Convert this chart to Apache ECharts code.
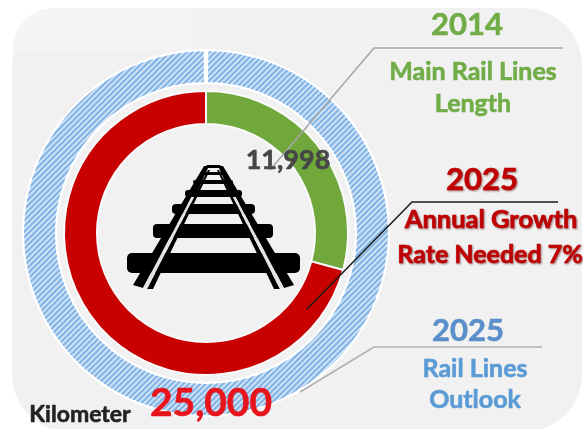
<!DOCTYPE html>
<html>
<head>
<meta charset="utf-8">
<style>
  html, body { margin: 0; padding: 0; background: #fff; }
  #chart { width: 583px; height: 429px; }
</style>
<script src="https://cdn.jsdelivr.net/npm/echarts@6/dist/echarts.min.js"></script>
</head>
<body>
<div id="chart"></div>
<script>
const outlookNames = ['2025 Rail Lines Outlook']
const outlookValues = [25000]
const ringNames = ['2014 Main Rail Lines Length', '2025 Annual Growth Rate Needed 7%']
const ringValues = [11998, 29100]

const fontFamily = 'Lato, "Open Sans", sans-serif'
const fmt = v => v.toLocaleString('en-US')

function text(str, x, y, size, fill, extra) {
  return {
    type: 'text',
    z: 20,
    style: Object.assign({
      text: str, x, y, fill,
      stroke: fill,
      lineWidth: 0.6,
      font: 'bold ' + size + 'px ' + fontFamily,
      textAlign: 'center',
      textVerticalAlign: 'middle'
    }, extra)
  }
}

function leader(points, stroke, width) {
  return {
    type: 'polyline',
    z: 15,
    shape: { points },
    style: { stroke, lineWidth: width, fill: null }
  }
}

function sleeper(x1, x2, y1, y2, r) {
  return {
    type: 'rect',
    z: 5,
    shape: { x: x1, y: y1, width: x2 - x1, height: y2 - y1, r },
    style: { fill: '#000' }
  }
}

function strip(points, fill) {
  return { type: 'polygon', z: 6, shape: { points }, style: { fill } }
}

const redShadow = { textShadowColor: 'rgba(90,0,0,0.45)', textShadowBlur: 2, textShadowOffsetX: 1, textShadowOffsetY: 1 }

const chart = echarts.init(document.getElementById('chart'))
chart.setOption({
  animation: false,
  backgroundColor: '#fff',
  graphic: [
    { type: 'rect', z: -3, shape: { x: 12, y: 8, width: 570, height: 424, r: 58 }, style: { fill: '#f1f1f1' } },
    { type: 'rect', z: -2, shape: { x: 12, y: 8, width: 179, height: 42, r: [42, 0, 0, 0] }, style: { fill: '#f5f5f5' } },

    // rail icon
    sleeper(127, 300, 253, 273, 5),
    sleeper(153, 273, 224, 238, 4),
    sleeper(172, 255, 204, 214, 4),
    sleeper(185, 242, 190, 197, 3),
    sleeper(193, 233, 180, 184, 2),
    sleeper(200, 227, 172, 175, 2),
    sleeper(206, 221, 165, 168, 2),
    strip([[133, 285], [143, 288], [208, 166], [204, 166]], '#000'),
    strip([[147, 289], [153, 289], [210, 170], [208, 170]], '#000'),
    strip([[191, 197], [195, 197], [208, 168], [205, 168]], '#000'),
    strip([[294, 285], [284, 288], [219, 166], [223, 166]], '#000'),
    strip([[280, 289], [274, 289], [217, 170], [219, 170]], '#000'),
    strip([[236, 197], [232, 197], [219, 168], [222, 168]], '#000'),
    strip([[143, 288], [147, 289], [194, 197], [191.5, 197]], '#e4e4e4'),
    strip([[284, 288], [280, 289], [233, 197], [235.5, 197]], '#e4e4e4'),

    // leader lines
    leader([[563, 48], [374, 48], [270, 170]], '#a6a6a6', 1.5),
    leader([[558, 202], [412, 202], [307, 309]], '#1a1a1a', 1.5),
    leader([[542, 347], [374, 347], [300, 392]], '#b0b0b0', 1.5),

    // texts
    text('2014', 467, 25, 31, '#70ad47'),
    text('Main Rail Lines', 473, 72, 25, '#70ad47'),
    text('Length', 473, 104, 25, '#70ad47'),
    text('2025', 482, 180, 31, '#c00000', redShadow),
    text('Annual Growth', 491, 220, 25.5, '#c00000', redShadow),
    text('Rate Needed 7%', 490, 255, 25, '#c00000', redShadow),
    text('2025', 468, 331, 31, '#5b8fc9'),
    text('Rail Lines', 475, 369, 25, '#5b9bd5'),
    text('Outlook', 475, 400, 25, '#5b9bd5'),
    text(fmt(ringValues[0]), 288, 160, 27, '#474747'),
    text(fmt(outlookValues[0]), 211, 403, 39, '#e8141c'),
    text('Kilometer', 80, 415, 23, '#222')
  ],
  series: [
    {
      type: 'pie',
      silent: true,
      radius: [150, 183],
      center: [206, 233],
      startAngle: 89.6,
      endAngle: -269.6,
      label: { show: false },
      labelLine: { show: false },
      itemStyle: {
        color: '#cfe2f5',
        borderColor: '#fff',
        borderWidth: 2,
        decal: {
          symbol: 'rect',
          symbolSize: 1,
          dashArrayX: [1, 0],
          dashArrayY: [2, 2],
          rotation: -Math.PI / 4,
          color: '#7fb2e5'
        }
      },
      data: outlookValues.map((value, i) => ({ name: outlookNames[i], value }))
    },
    {
      type: 'pie',
      silent: true,
      radius: [109, 142],
      center: [206, 233],
      startAngle: 90,
      label: { show: false },
      labelLine: { show: false },
      itemStyle: { borderColor: '#fafafa', borderWidth: 2 },
      color: ['#70a83c', '#c80000'],
      data: ringValues.map((value, i) => ({ name: ringNames[i], value }))
    }
  ]
})
</script>
</body>
</html>
